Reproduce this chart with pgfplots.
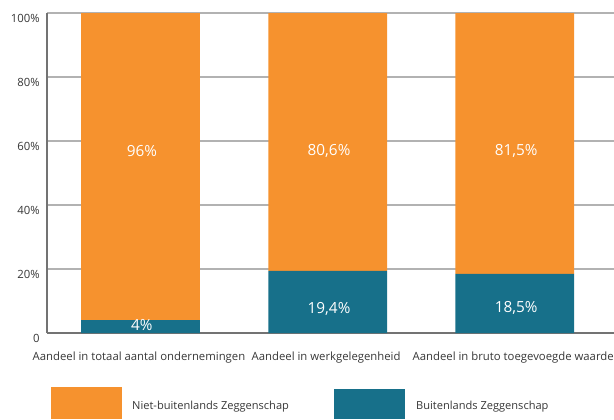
\documentclass[border=0pt]{standalone}
\usepackage{pgfplots}
\pgfplotsset{compat=1.18}
\usepackage{fontspec}
\setmainfont{Open Sans}
\definecolor{orng}{RGB}{246,146,46}
\definecolor{teal}{RGB}{23,112,138}
\definecolor{txt}{RGB}{55,55,55}
\begin{document}
\begin{tikzpicture}[x=0.75pt,y=0.75pt]
\begin{axis}[
  at={(35.25pt,64.5pt)}, anchor=south west,
  scale only axis, width=425.25pt, height=240pt,
  ybar stacked, bar width=0.635,
  xmin=-0.5, xmax=2.53, ymin=0, ymax=100,
  xtick={0,1,2},
  xticklabels={Aandeel in totaal aantal ondernemingen, Aandeel in werkgelegenheid, Aandeel in bruto toegevoegde waarde},
  ytick={0,20,40,60,80,100},
  yticklabels={0,20\%,40\%,60\%,80\%,100\%},
  axis x line=bottom, axis y line=left,
  axis line style={draw=black!55, line width=0.9pt, -},
  major tick length=0pt,
  ymajorgrids, grid style={draw=black!30, line width=0.8pt},
  ticklabel style={font=\fontsize{8.5}{9}\selectfont, text=txt},
  yticklabel style={yshift=-4pt, xshift=-2pt},
  xticklabel style={yshift=-11pt, xshift=-1.2pt},
  clip=false,
]
\addplot[fill=teal, draw=none] coordinates {(0,4) (1,19.4) (2,18.5)};
\addplot[fill=orng, draw=none] coordinates {(0,96) (1,80.6) (2,81.5)};
\coordinate (o0) at (axis cs:0,56.8);
\coordinate (o1) at (axis cs:1,56.8);
\coordinate (o2) at (axis cs:2,56.8);
\coordinate (b0) at (axis cs:0,2.6);
\coordinate (b1) at (axis cs:1,7.5);
\coordinate (b2) at (axis cs:2,7.8);
\end{axis}
\foreach \c/\t in {o0/96\%, o1/{80,6\%}, o2/{81,5\%}, b0/4\%, b1/{19,4\%}, b2/{18,5\%}}
  \node[text=white, font=\fontsize{11.5}{12}\selectfont, xshift=1pt] at (\c) {\t};
\fill[orng] (51,0) rectangle (122,32);
\node[anchor=west, text=txt, font=\fontsize{8.3}{9}\selectfont] at (127.5,12) {Niet-buitenlands Zeggenschap};
\fill[teal] (334,0) rectangle (405,30);
\node[anchor=west, text=txt, font=\fontsize{8.3}{9}\selectfont] at (411.5,12) {Buitenlands Zeggenschap};
\pgfresetboundingbox
\useasboundingbox (0,0) rectangle (614,419);
\end{tikzpicture}
\end{document}
